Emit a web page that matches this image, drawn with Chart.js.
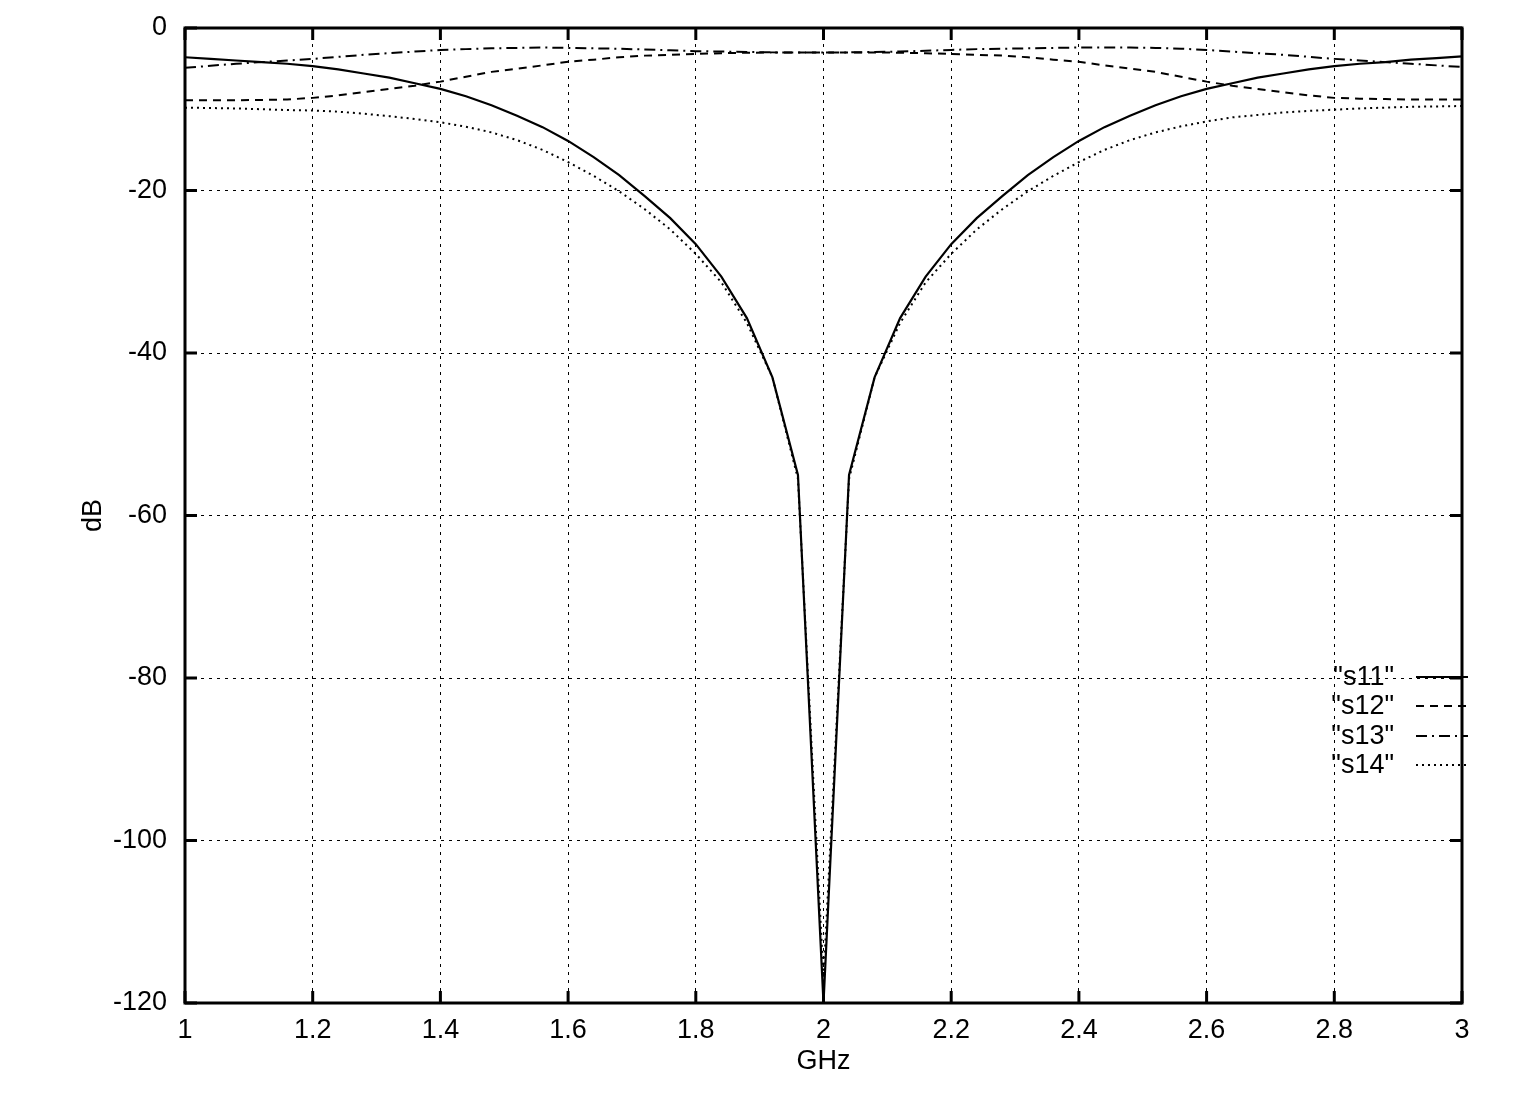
<!DOCTYPE html>
<html>
<head>
<meta charset="utf-8">
<script src="https://cdn.jsdelivr.net/npm/chart.js@4.4.1/dist/chart.umd.min.js"></script>
<style>
  html, body { margin: 0; padding: 0; background: #fff; }
  #wrap { width: 1517px; height: 1116px; }
</style>
</head>
<body>
<div id="wrap"><canvas id="plot" width="1517" height="1116"></canvas></div>
<script>
const freqs = [1.00, 1.04, 1.08, 1.12, 1.16, 1.20, 1.24, 1.28, 1.32, 1.36, 1.40, 1.44, 1.48, 1.52, 1.56, 1.60, 1.64, 1.68, 1.72, 1.76, 1.80, 1.84, 1.88, 1.92, 1.96,
               2.00, 2.04, 2.08, 2.12, 2.16, 2.20, 2.24, 2.28, 2.32, 2.36, 2.40, 2.44, 2.48, 2.52, 2.56, 2.60, 2.64, 2.68, 2.72, 2.76, 2.80, 2.84, 2.88, 2.92, 2.96, 3.00];

const s11 = [-3.6, -3.8, -4.0, -4.2, -4.4, -4.7, -5.1, -5.6, -6.1, -6.8, -7.5, -8.4, -9.5, -10.8, -12.2, -13.9, -15.9, -18.1, -20.7, -23.4, -26.6, -30.6, -35.7, -43.0, -55.0,
             -120,
             -55.0, -43.0, -35.7, -30.6, -26.6, -23.4, -20.7, -18.1, -15.9, -13.9, -12.2, -10.8, -9.5, -8.4, -7.5, -6.8, -6.1, -5.6, -5.1, -4.7, -4.4, -4.2, -3.9, -3.7, -3.5];

const s12 = [-8.9, -8.9, -8.9, -8.85, -8.8, -8.6, -8.3, -7.9, -7.5, -7.1, -6.6, -6.0, -5.4, -5.0, -4.6, -4.15, -3.9, -3.6, -3.4, -3.3, -3.2, -3.1, -3.05, -3.0, -3.0,
             -3.0,
             -3.0, -3.0, -3.05, -3.1, -3.2, -3.3, -3.4, -3.6, -3.9, -4.15, -4.6, -5.0, -5.4, -6.0, -6.6, -7.1, -7.5, -7.9, -8.3, -8.6, -8.7, -8.75, -8.8, -8.8, -8.8];

const s13 = [-4.9, -4.65, -4.4, -4.2, -4.0, -3.8, -3.55, -3.3, -3.1, -2.9, -2.7, -2.6, -2.5, -2.45, -2.4, -2.45, -2.5, -2.55, -2.65, -2.75, -2.85, -2.9, -2.95, -3.0, -3.0,
             -3.0,
             -3.0, -2.95, -2.9, -2.8, -2.7, -2.6, -2.55, -2.5, -2.45, -2.4, -2.4, -2.4, -2.45, -2.55, -2.7, -2.9, -3.1, -3.3, -3.55, -3.8, -4.0, -4.2, -4.4, -4.6, -4.8];

const s14 = [-9.8, -9.85, -9.9, -10.0, -10.1, -10.15, -10.3, -10.55, -10.85, -11.2, -11.6, -12.15, -12.85, -13.8, -15.0, -16.5, -18.2, -20.1, -22.3, -24.8, -27.8, -31.3, -36.3, -43.0, -55.5,
             -117,
             -55.5, -43.0, -36.3, -31.3, -27.8, -24.8, -22.3, -20.1, -18.2, -16.5, -15.0, -13.8, -12.85, -12.1, -11.5, -11.0, -10.7, -10.4, -10.2, -10.05, -9.9, -9.8, -9.7, -9.65, -9.6];

const seriesNames = ['"s11"', '"s12"', '"s13"', '"s14"'];
const xTicks = [1, 1.2, 1.4, 1.6, 1.8, 2, 2.2, 2.4, 2.6, 2.8, 3];
const yTicks = [0, -20, -40, -60, -80, -100, -120];

const FONT = '"Liberation Sans", Arial, Helvetica, sans-serif';
const FSIZE = 27;

function pts(ys) {
  return freqs.map((f, i) => ({ x: f, y: ys[i] }));
}

const styles = [
  { dash: [], width: 2.2 },
  { dash: [8, 6], width: 2 },
  { dash: [11, 5, 2, 5], width: 2 },
  { dash: [2, 4], width: 2 }
];

const datasets = [s11, s12, s13, s14].map((ys, i) => ({
  label: seriesNames[i],
  data: pts(ys),
  borderColor: '#000',
  borderWidth: styles[i].width,
  borderDash: styles[i].dash,
  pointRadius: 0,
  tension: 0,
  fill: false
}));

// gnuplot-style frame, inward ticks and legend
const framePlugin = {
  id: 'frame',
  afterDatasetsDraw(chart) {
    const { ctx, chartArea: a, scales: { x, y } } = chart;
    ctx.save();
    ctx.strokeStyle = '#000';
    ctx.setLineDash([]);
    ctx.lineWidth = 3;
    ctx.strokeRect(a.left, a.top, a.right - a.left, a.bottom - a.top);
    ctx.beginPath();
    xTicks.forEach(v => {
      const px = x.getPixelForValue(v);
      ctx.moveTo(px, a.bottom); ctx.lineTo(px, a.bottom - 12);
      ctx.moveTo(px, a.top); ctx.lineTo(px, a.top + 12);
    });
    yTicks.forEach(v => {
      const py = y.getPixelForValue(v);
      ctx.moveTo(a.left, py); ctx.lineTo(a.left + 12, py);
      ctx.moveTo(a.right, py); ctx.lineTo(a.right - 12, py);
    });
    ctx.stroke();

    // legend
    ctx.font = FSIZE + 'px ' + FONT;
    ctx.fillStyle = '#000';
    ctx.textAlign = 'right';
    ctx.textBaseline = 'middle';
    const rowY = [677, 706, 736, 765];
    chart.data.datasets.forEach((ds, i) => {
      const ty = rowY[i];
      ctx.fillText(ds.label, a.right - 68, ty + 1);
      ctx.beginPath();
      ctx.lineWidth = ds.borderWidth;
      ctx.setLineDash(ds.borderDash);
      ctx.moveTo(a.right - 46, ty);
      ctx.lineTo(a.right + 6, ty);
      ctx.stroke();
    });
    ctx.restore();
  }
};

new Chart(document.getElementById('plot').getContext('2d'), {
  type: 'line',
  data: { datasets },
  plugins: [framePlugin],
  options: {
    responsive: false,
    animation: false,
    layout: { padding: { top: 28, right: 55, bottom: 33, left: 0 } },
    plugins: { legend: { display: false }, tooltip: { enabled: false } },
    scales: {
      x: {
        type: 'linear',
        min: 1,
        max: 3,
        afterBuildTicks: s => { s.ticks = xTicks.map(v => ({ value: v })); },
        afterFit: s => { s.height = 80; s.paddingLeft = 0; s.paddingRight = 0; },
        ticks: {
          padding: 11,
          color: '#000',
          font: { family: FONT, size: FSIZE },
          maxRotation: 0,
          autoSkip: false,
          callback: v => String(+v.toFixed(1))
        },
        grid: { color: '#000', lineWidth: 1, tickLength: 0 },
        border: { display: false, dash: [3, 5] },
        title: { display: true, text: 'GHz', color: '#000', font: { family: FONT, size: FSIZE }, padding: { bottom: 5, top: 0 } }
      },
      y: {
        type: 'linear',
        min: -120,
        max: 0,
        afterBuildTicks: s => { s.ticks = yTicks.map(v => ({ value: v })); },
        afterFit: s => { s.width = 185; s.paddingTop = 0; s.paddingBottom = 0; },
        ticks: {
          padding: 18,
          color: '#000',
          font: { family: FONT, size: FSIZE },
          autoSkip: false,
          callback: v => String(v)
        },
        grid: { color: '#000', lineWidth: 1, tickLength: 0 },
        border: { display: false, dash: [3, 5] },
        title: { display: true, text: 'dB', color: '#000', font: { family: FONT, size: FSIZE }, padding: { top: 77, bottom: 0 } }
      }
    }
  }
});
</script>
</body>
</html>
